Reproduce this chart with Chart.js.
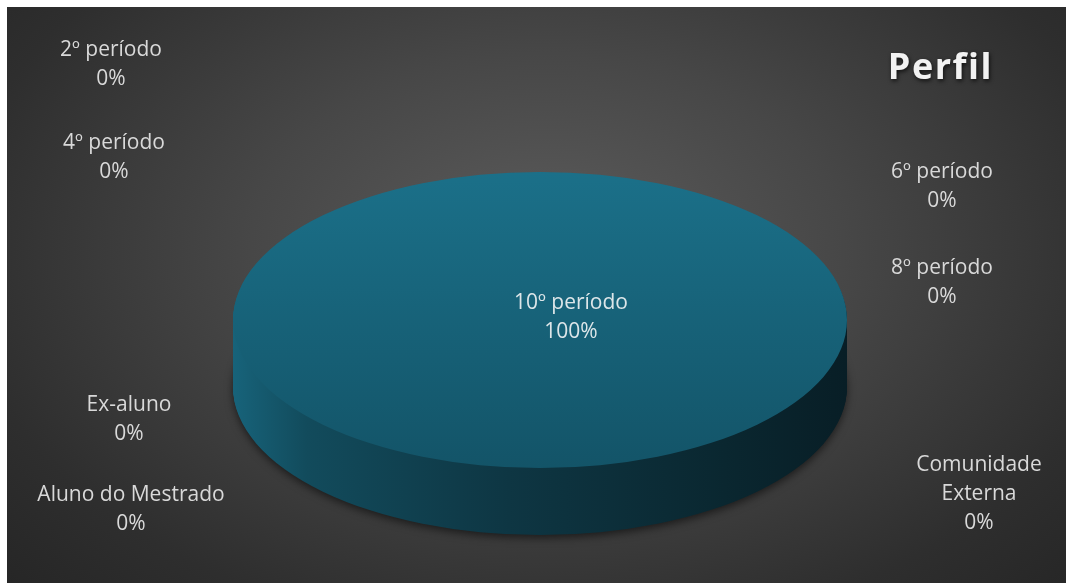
<!DOCTYPE html>
<html>
<head>
<meta charset="utf-8">
<script src="https://cdn.jsdelivr.net/npm/chart.js@4/dist/chart.umd.min.js"></script>
<style>
  html, body { margin: 0; padding: 0; background: #ffffff; overflow: hidden; width: 100%; height: 100%; }
  #wrap {
    position: fixed; left: 7px; top: 7px; right: 0; bottom: 0;
    background: radial-gradient(ellipse 70% 85% at 51% 42%, #5c5c5c 0%, #474747 40%, #2e2e2e 80%, #262626 100%);
  }
</style>
</head>
<body>
<div id="wrap"><canvas id="chart"></canvas></div>
<script>
// data
const categories = ['2º período', '4º período', '6º período', '8º período', '10º período',
  'Ex-aluno', 'Aluno do Mestrado', ['Comunidade', 'Externa']];
const shares = [0, 0, 0, 0, 100, 0, 0, 0];

// where Excel put each data label (page coords, centre of first line)
const labelPos = [[111, 50], [114, 143], [942, 172], [942, 268], [571, 303],
  [129, 405], [131, 495], [979, 465]];

const OFF = 7;                 // canvas offset inside the page
const CX = 540 - OFF, CY = 320 - OFF;
const RX = 307, RY = 148, DEPTH = 67;

function topFill(c) {
  const a = c.chart.chartArea;
  if (!a) return '#1a6b82';
  const cy = (a.top + a.bottom) / 2;
  const r = Math.min(a.width, a.height) / 2;
  const g = c.chart.ctx.createLinearGradient(0, cy - r, 0, cy + r);
  g.addColorStop(0, '#1b7089');
  g.addColorStop(1, '#135468');
  return g;
}

// squashes the pie into an ellipse and adds the extruded side
const pie3d = {
  id: 'pie3d',
  beforeDatasetsDraw(chart) {
    const ctx = chart.ctx;
    const arcs = chart.getDatasetMeta(0).data;
    const p = arcs[0].getProps(['x', 'y', 'outerRadius'], true);
    const sx = RX / p.outerRadius, sy = RY / p.outerRadius;

    const side = ctx.createLinearGradient(p.x - p.outerRadius, 0, p.x + p.outerRadius, 0);
    side.addColorStop(0, '#17637a');
    side.addColorStop(0.12, '#124b5c');
    side.addColorStop(0.45, '#0e3643');
    side.addColorStop(0.8, '#0a2730');
    side.addColorStop(1, '#081e26');

    for (let d = DEPTH; d >= 1; d--) {
      arcs.forEach(el => {
        const a = el.getProps(['startAngle', 'endAngle', 'circumference'], true);
        if (a.circumference <= 0) return;
        ctx.save();
        if (d === DEPTH) {
          ctx.shadowColor = 'rgba(0,0,0,0.55)';
          ctx.shadowBlur = 8;
          ctx.shadowOffsetY = 3;
        }
        ctx.translate(CX, CY + d);
        ctx.scale(sx, sy);
        ctx.translate(-p.x, -p.y);
        ctx.beginPath();
        ctx.moveTo(p.x, p.y);
        ctx.arc(p.x, p.y, p.outerRadius, a.startAngle, a.endAngle);
        ctx.closePath();
        ctx.fillStyle = side;
        ctx.fill();
        ctx.restore();
      });
    }

    ctx.save();
    ctx.translate(CX, CY);
    ctx.scale(sx, sy);
    ctx.translate(-p.x, -p.y);
  },
  afterDatasetsDraw(chart) {
    chart.ctx.restore();
  }
};

const labelsAndTitle = {
  id: 'labelsAndTitle',
  afterDraw(chart) {
    const ctx = chart.ctx;
    const total = shares.reduce((s, v) => s + v, 0);
    ctx.save();
    ctx.font = '21px "Open Sans"';
    ctx.textAlign = 'center';
    ctx.textBaseline = 'middle';
    categories.forEach((cat, i) => {
      const lines = Array.isArray(cat) ? cat.slice() : [cat];
      lines.push(Math.round(shares[i] / total * 100) + '%');
      const [x, y] = labelPos[i];
      ctx.fillStyle = i === 4 ? '#dde6e9' : '#d9d9d9';
      lines.forEach((t, k) => ctx.fillText(t, x - OFF, y - OFF + k * 29));
    });

    ctx.font = 'bold 36px "Open Sans"';
    ctx.letterSpacing = '1.5px';
    ctx.textAlign = 'right';
    ctx.textBaseline = 'alphabetic';
    ctx.shadowColor = 'rgba(0,0,0,0.7)';
    ctx.shadowBlur = 4;
    ctx.shadowOffsetX = 1;
    ctx.shadowOffsetY = 2;
    ctx.fillStyle = '#f2f2f2';
    ctx.fillText('Perfil', 993 - OFF, 79 - OFF);
    ctx.restore();
  }
};

new Chart(document.getElementById('chart'), {
  type: 'pie',
  data: {
    labels: categories,
    datasets: [{
      data: shares,
      backgroundColor: topFill,
      borderWidth: 0,
      clip: false
    }]
  },
  options: {
    responsive: true,
    maintainAspectRatio: false,
    animation: false,
    plugins: {
      legend: { display: false },
      tooltip: { enabled: false }
    }
  },
  plugins: [pie3d, labelsAndTitle]
});
</script>
</body>
</html>
